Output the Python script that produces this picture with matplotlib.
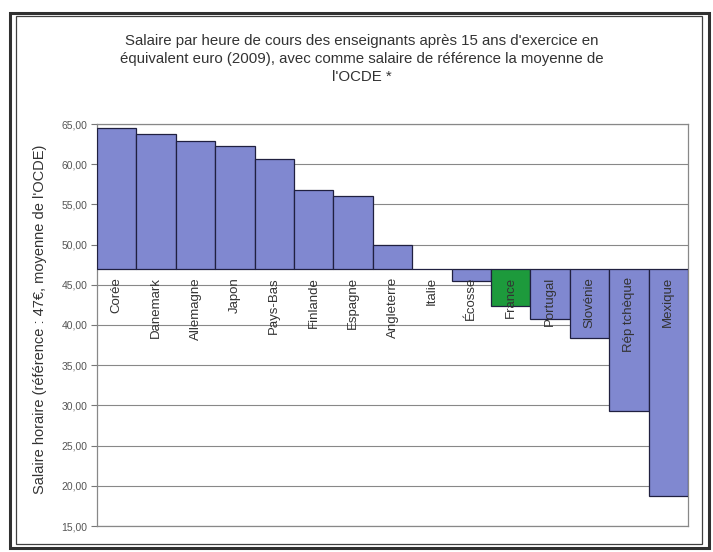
import matplotlib.pyplot as plt
from matplotlib.patches import Rectangle

plt.rcParams['font.family'] = ['Liberation Sans', 'DejaVu Sans']

pays = ['Corée', 'Danemark', 'Allemagne', 'Japon', 'Pays-Bas', 'Finlande',
        'Espagne', 'Angleterre', 'Italie', 'Écosse', 'France', 'Portugal',
        'Slovénie', 'Rép tchèque', 'Mexique']
salaires = [64.5, 63.75, 62.9, 62.3, 60.7, 56.8, 56.0, 50.0, 47.0, 45.5,
            42.4, 40.8, 38.4, 29.25, 18.75]
reference = 47
yticks = [15, 20, 25, 30, 35, 40, 45, 50, 55, 60, 65]

fig = plt.figure(figsize=(7.13, 5.52), dpi=100)
W, H = 713, 552

# double frame
fig.patches.append(Rectangle((10 / W, 4 / H), 699 / W, 535 / H, transform=fig.transFigure,
                             fill=False, edgecolor='#303030', linewidth=2.2))
fig.patches.append(Rectangle((16 / W, 8 / H), 686 / W, 528 / H, transform=fig.transFigure,
                             fill=False, edgecolor='#404040', linewidth=0.9))

ax = fig.add_axes([97 / W, 1 - 526 / H, 591 / W, 402 / H])

colors = ['#1d9a3c' if p == 'France' else '#8088d0' for p in pays]
heights = [s - reference for s in salaires]
ax.bar(range(len(pays)), heights, bottom=reference, width=1.0,
       color=colors, edgecolor='#202040', linewidth=0.9, zorder=3)

for i, p in enumerate(pays):
    ax.annotate(p, xy=(i, reference), xytext=(0, -6), textcoords='offset points',
                rotation=90, ha='center', va='top', fontsize=9.5, color='#333333',
                zorder=4)

ax.set_xlim(-0.5, len(pays) - 0.5)
ax.set_ylim(15, 65)
ax.set_xticks([])
ax.set_yticks(yticks)
ax.set_yticklabels(['%d,00' % v for v in yticks], fontsize=7.5, color='#555555')
ax.tick_params(axis='y', length=4, width=0.8, color='#777777', pad=3)
ax.yaxis.grid(True, color='#888888', linewidth=0.8, zorder=0)
for s in ax.spines.values():
    s.set_color('#888888')
    s.set_linewidth(0.9)

ax.set_ylabel("Salaire horaire (référence : 47€, moyenne de l'OCDE)",
              fontsize=10.5, color='#333333')
ax.yaxis.set_label_coords(-0.085, 0.515)

fig.text(362 / W, 1 - 59 / H,
         "Salaire par heure de cours des enseignants après 15 ans d'exercice en\n"
         "équivalent euro (2009), avec comme salaire de référence la moyenne de\n"
         "l'OCDE *",
         ha='center', va='center', fontsize=10.8, color='#333333', linespacing=1.32)

fig.savefig('out.png', dpi=100)
